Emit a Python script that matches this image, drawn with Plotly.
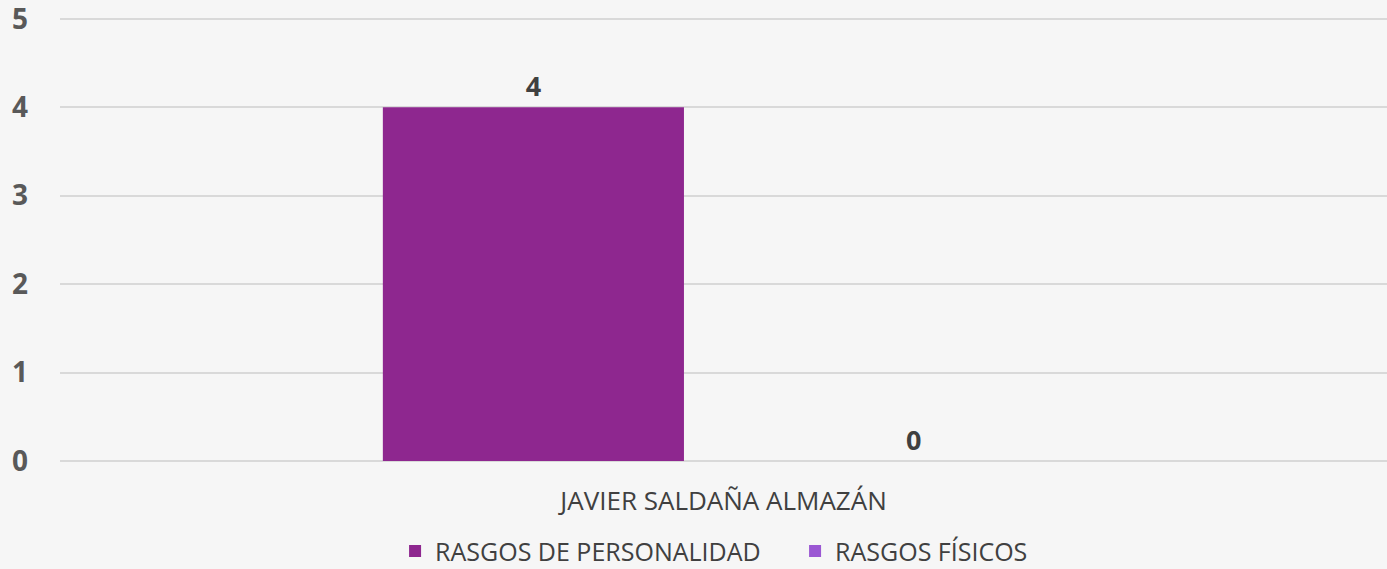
import plotly.graph_objects as go

CATEGORIES = ["JAVIER SALDAÑA ALMAZÁN"]
SERIES = {
    "RASGOS DE PERSONALIDAD": [4],
    "RASGOS FÍSICOS": [0],
}
SERIES_COLORS = {
    "RASGOS DE PERSONALIDAD": "#8E278F",
    "RASGOS FÍSICOS": "#9B57D3",
}
Y_TICKS = [0, 1, 2, 3, 4, 5]

FONT = "Open Sans"

fig = go.Figure()
for name, values in SERIES.items():
    fig.add_trace(go.Bar(
        x=CATEGORIES,
        y=values,
        name=name,
        marker=dict(color=SERIES_COLORS[name], line=dict(width=0)),
        texttemplate="%{y}",
        textposition="outside",
        textfont=dict(family=FONT, size=27, color="#404040", weight="bold"),
        cliponaxis=False,
    ))

fig.update_layout(
    width=1387,
    height=569,
    barmode="group",
    bargap=0.427,
    bargroupgap=0.208,
    paper_bgcolor="#f6f6f6",
    plot_bgcolor="rgba(0,0,0,0)",
    margin=dict(l=60, r=0, t=17, b=108, autoexpand=False),
    font=dict(family=FONT, color="#404040"),
    showlegend=True,
    legend=dict(
        orientation="h",
        x=0.2525, xanchor="left",
        y=-0.203, yanchor="middle",
        font=dict(family=FONT, size=25, color="#404040"),
        itemwidth=30,
        entrywidth=355,
        bgcolor="rgba(0,0,0,0)",
    ),
)
fig.update_xaxes(
    tickfont=dict(family=FONT, size=26, color="#404040"),
    ticklabelstandoff=22,
    showline=False,
    showgrid=False,
    automargin=False,
)
fig.update_yaxes(
    range=[0, 5.02],
    tickvals=Y_TICKS,
    tickfont=dict(family=FONT, size=28, color="#595959", weight="bold"),
    ticklabelstandoff=31,
    ticklabeloverflow="allow",
    gridcolor="#d9d9d9",
    gridwidth=2,
    zeroline=True,
    zerolinecolor="#d9d9d9",
    zerolinewidth=2,
    showline=False,
    automargin=False,
)

fig.write_html(
    "out.html",
    config={"displayModeBar": False},
    post_script="document.body.style.margin='0px';",
)
